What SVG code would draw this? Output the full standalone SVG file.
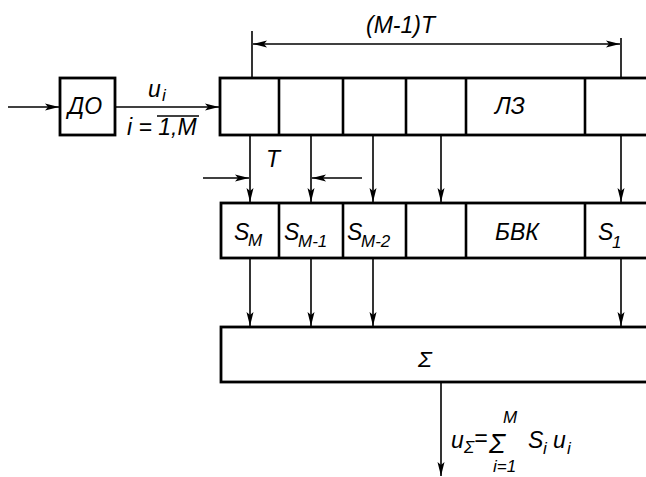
<svg xmlns="http://www.w3.org/2000/svg" width="646" height="477" viewBox="0 0 646 477">
<style>
.box{fill:#fff;stroke:#000;stroke-width:2.8}
.dv{stroke:#000;stroke-width:2.6}
.ln{stroke:#000;stroke-width:1.6;fill:none}
text{font-family:"Liberation Sans",Arial,sans-serif;font-style:italic;fill:#000}
.t{font-size:23px}
.sub{font-size:17px}
</style>
<defs>
<marker id="a" markerWidth="14" markerHeight="8" refX="14" refY="4" orient="auto" markerUnits="userSpaceOnUse">
<path d="M0,0.5 L14,4 L0,7.5 L3,4 Z" fill="#000"/>
</marker>
</defs>
<rect width="646" height="477" fill="#fff"/>
<g id="connectors">
<line class="ln" x1="8" y1="107" x2="59" y2="107" marker-end="url(#a)"/>
<line class="ln" x1="115" y1="107" x2="219" y2="107" marker-end="url(#a)"/>
<line class="ln" x1="252" y1="31" x2="252" y2="78"/>
<line class="ln" x1="621" y1="38" x2="621" y2="78"/>
<line class="ln" x1="436" y1="44" x2="253" y2="44" marker-end="url(#a)"/>
<line class="ln" x1="436" y1="44" x2="620" y2="44" marker-end="url(#a)"/>
<line class="ln" x1="250" y1="135" x2="250" y2="202" marker-end="url(#a)"/>
<line class="ln" x1="311" y1="135" x2="311" y2="202" marker-end="url(#a)"/>
<line class="ln" x1="373" y1="135" x2="373" y2="202" marker-end="url(#a)"/>
<line class="ln" x1="441" y1="135" x2="441" y2="202" marker-end="url(#a)"/>
<line class="ln" x1="621" y1="135" x2="621" y2="202" marker-end="url(#a)"/>
<line class="ln" x1="203" y1="178" x2="249" y2="178" marker-end="url(#a)"/>
<line class="ln" x1="362" y1="178" x2="312" y2="178" marker-end="url(#a)"/>
<line class="ln" x1="250" y1="258" x2="250" y2="326" marker-end="url(#a)"/>
<line class="ln" x1="311" y1="258" x2="311" y2="326" marker-end="url(#a)"/>
<line class="ln" x1="373" y1="258" x2="373" y2="326" marker-end="url(#a)"/>
<line class="ln" x1="621" y1="258" x2="621" y2="326" marker-end="url(#a)"/>
<line class="ln" x1="441" y1="382" x2="441" y2="476" marker-end="url(#a)"/>
</g>
<g id="labels">
<text class="t" x="366" y="33" font-size="24">(M-1)T</text>
<text class="t" x="266" y="167" font-size="24">T</text>
<text class="t" x="148" y="97">u</text><text class="sub" x="162" y="101">i</text>
<text class="t" x="127" y="135" font-size="20">i = 1,M</text>
<line class="ln" x1="157" y1="116" x2="199" y2="116"/>
<text class="t" x="451" y="448" font-size="22">u</text><text class="sub" x="464" y="453" font-size="15">Σ</text>
<text class="t" x="474" y="446" font-size="17">=</text>
<text x="489" y="453" font-size="27">Σ</text>
<text class="sub" x="503" y="423" font-size="14">M</text>
<text class="sub" x="493" y="472" font-size="15">i=1</text>
<text class="t" x="528" y="448" font-size="22">S</text><text class="sub" x="543" y="454" font-size="15">i</text>
<text class="t" x="553" y="448" font-size="22">u</text><text class="sub" x="567" y="454" font-size="15">i</text>
</g>
<g id="do">
<rect class="box" x="60" y="78" width="55" height="57"/>
<text class="t" x="68" y="114">ДО</text>
</g>
<g id="lz">
<rect class="box" x="220" y="78" width="440" height="57"/>
<line class="dv" x1="279" y1="78" x2="279" y2="135"/>
<line class="dv" x1="343" y1="78" x2="343" y2="135"/>
<line class="dv" x1="406" y1="78" x2="406" y2="135"/>
<line class="dv" x1="466" y1="78" x2="466" y2="135"/>
<line class="dv" x1="585" y1="78" x2="585" y2="135"/>
<text class="t" x="495" y="114">ЛЗ</text>
</g>
<g id="weights">
<rect class="box" x="221" y="203" width="440" height="55"/>
<line class="dv" x1="279" y1="203" x2="279" y2="258"/>
<line class="dv" x1="343" y1="203" x2="343" y2="258"/>
<line class="dv" x1="406" y1="203" x2="406" y2="258"/>
<line class="dv" x1="466" y1="203" x2="466" y2="258"/>
<line class="dv" x1="585" y1="203" x2="585" y2="258"/>
<text class="t" x="234" y="240">S</text><text class="sub" x="248" y="246">M</text>
<text class="t" x="284" y="240">S</text><text class="sub" x="298" y="247">M-1</text>
<text class="t" x="347" y="240">S</text><text class="sub" x="361" y="247">M-2</text>
<text class="t" x="495" y="240" font-size="20">БВК</text>
<text class="t" x="598" y="240">S</text><text class="sub" x="612" y="248">1</text>
</g>
<g id="sum">
<rect class="box" x="221" y="327" width="440" height="55"/>
<text class="t" x="418" y="367" font-size="29">Σ</text>
</g>
</svg>
